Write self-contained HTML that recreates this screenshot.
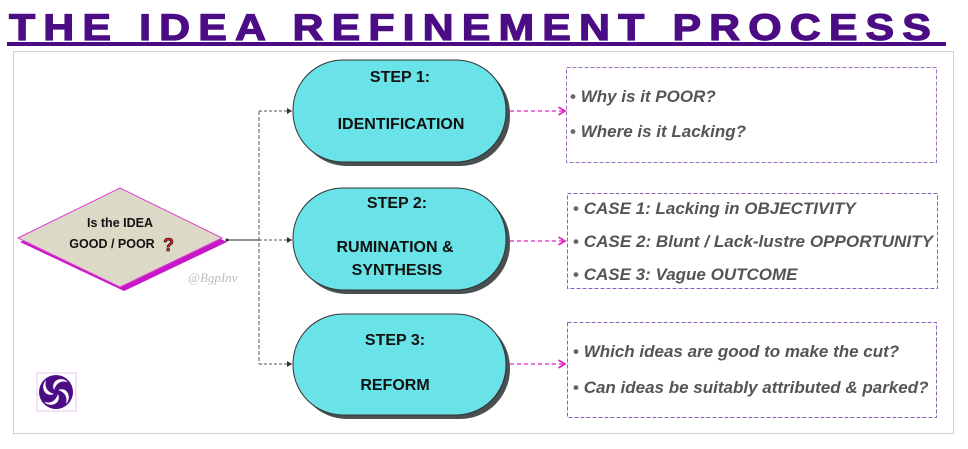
<!DOCTYPE html>
<html><head><meta charset="utf-8"><style>
body{margin:0;background:#fff;width:968px;height:449px;overflow:hidden}
svg{display:block}
.t{font-family:"Liberation Sans",sans-serif;font-weight:bold}
.i{font-family:"Liberation Sans",sans-serif;font-weight:bold;font-style:italic;fill:#555;font-size:17px}
</style></head><body>
<svg width="968" height="449" xmlns="http://www.w3.org/2000/svg">
<defs>
<marker id="ah" markerWidth="8" markerHeight="8" refX="6" refY="4" orient="auto"><path d="M1,1 L6,4 L1,7" fill="none" stroke="#e020c0" stroke-width="1.3"/></marker>
<marker id="ak" markerWidth="6" markerHeight="6" refX="5" refY="3" orient="auto"><path d="M0,0 L5,3 L0,6z" fill="#333"/></marker>
</defs>
<text x="9" y="40" class="t" font-size="37" fill="#4b0c84" stroke="#4b0c84" stroke-width="1.2" letter-spacing="7" textLength="930" lengthAdjust="spacingAndGlyphs">THE IDEA REFINEMENT PROCESS</text>
<rect x="7" y="42" width="939" height="4" fill="#4b0c84"/>
<rect x="13.5" y="51.5" width="940" height="382" fill="none" stroke="#d0d0d0"/>
<!-- diamond -->
<polygon points="20,242 124,192 227,242 124,291" fill="#c817c8"/>
<polygon points="18,238 120,188 222,238 120,287" fill="#dcdac6" stroke="#e040d0" stroke-width="1"/>
<text x="120" y="227" class="t" font-size="12.5" text-anchor="middle" fill="#111">Is the IDEA</text>
<text x="112" y="248" class="t" font-size="12.5" text-anchor="middle" fill="#111">GOOD / POOR</text>
<text x="163" y="251" class="t" font-size="18" fill="#e02020" stroke="#000" stroke-width="0.6">?</text>
<text x="188" y="282" font-family="Liberation Serif" font-style="italic" font-size="13" fill="#bbb">@BgpInv</text>
<!-- connectors -->
<line x1="227" y1="240" x2="259" y2="240" stroke="#222" stroke-width="1"/>
<circle cx="227" cy="240" r="1.5" fill="#222"/>
<line x1="259" y1="111" x2="259" y2="364" stroke="#555" stroke-width="1" stroke-dasharray="4,2"/>
<line x1="259" y1="111" x2="292" y2="111" stroke="#555" stroke-dasharray="3,2" marker-end="url(#ak)"/>
<line x1="259" y1="240" x2="292" y2="240" stroke="#555" stroke-dasharray="3,2" marker-end="url(#ak)"/>
<line x1="259" y1="364" x2="292" y2="364" stroke="#555" stroke-dasharray="3,2" marker-end="url(#ak)"/>
<!-- steps -->
<g>
<rect x="297" y="64" width="213" height="102" rx="50" fill="#4a4f52"/>
<rect x="293" y="60" width="213" height="102" rx="50" fill="#69e3e7" stroke="#333" stroke-width="1"/>
<text x="400" y="82" class="t" font-size="16" text-anchor="middle" fill="#111">STEP 1:</text>
<text x="401" y="129" class="t" font-size="16" text-anchor="middle" fill="#111">IDENTIFICATION</text>
</g>
<g>
<rect x="297" y="192" width="213" height="102" rx="50" fill="#4a4f52"/>
<rect x="293" y="188" width="213" height="102" rx="50" fill="#69e3e7" stroke="#333" stroke-width="1"/>
<text x="397" y="208" class="t" font-size="16" text-anchor="middle" fill="#111">STEP 2:</text>
<text x="395" y="252" class="t" font-size="16" text-anchor="middle" fill="#111">RUMINATION &amp;</text>
<text x="397" y="275" class="t" font-size="16" text-anchor="middle" fill="#111">SYNTHESIS</text>
</g>
<g>
<rect x="297" y="318" width="213" height="101" rx="50" fill="#4a4f52"/>
<rect x="293" y="314" width="213" height="101" rx="50" fill="#69e3e7" stroke="#333" stroke-width="1"/>
<text x="395" y="345" class="t" font-size="16" text-anchor="middle" fill="#111">STEP 3:</text>
<text x="395" y="390" class="t" font-size="16" text-anchor="middle" fill="#111">REFORM</text>
</g>
<!-- pink arrows -->
<line x1="510" y1="111" x2="565" y2="111" stroke="#e020c0" stroke-width="1.3" stroke-dasharray="4,3" marker-end="url(#ah)"/>
<line x1="510" y1="241" x2="565" y2="241" stroke="#e020c0" stroke-width="1.3" stroke-dasharray="4,3" marker-end="url(#ah)"/>
<line x1="510" y1="364" x2="565" y2="364" stroke="#e020c0" stroke-width="1.3" stroke-dasharray="4,3" marker-end="url(#ah)"/>
<!-- boxes -->
<rect x="566.5" y="67.5" width="370" height="95" fill="#fff" stroke="#9a6fc4" stroke-dasharray="4,2"/>
<text x="570" y="102" class="i"><tspan fill="#666" font-style="normal">• </tspan>Why is it POOR?</text>
<text x="570" y="137" class="i"><tspan fill="#666" font-style="normal">• </tspan>Where is it Lacking?</text>
<rect x="567.5" y="193.5" width="370" height="95" fill="#fff" stroke="#8a5fbc" stroke-dasharray="4,2"/>
<text x="573" y="214" class="i"><tspan fill="#666" font-style="normal">• </tspan>CASE 1: Lacking in OBJECTIVITY</text>
<text x="573" y="247" class="i" textLength="360" lengthAdjust="spacingAndGlyphs"><tspan fill="#666" font-style="normal">• </tspan>CASE 2: Blunt / Lack-lustre OPPORTUNITY</text>
<text x="573" y="280" class="i"><tspan fill="#666" font-style="normal">• </tspan>CASE 3: Vague OUTCOME</text>
<rect x="567.5" y="322.5" width="369" height="95" fill="#fff" stroke="#8a5fbc" stroke-dasharray="4,2"/>
<text x="573" y="357" class="i"><tspan fill="#666" font-style="normal">• </tspan>Which ideas are good to make the cut?</text>
<text x="573" y="393" class="i"><tspan fill="#666" font-style="normal">• </tspan>Can ideas be suitably attributed &amp; parked?</text>
<!-- logo -->
<rect x="37" y="373" width="39" height="38" fill="#fff" stroke="#e8b8e8" stroke-width="0.8"/>
<g transform="translate(56,392)" fill="#4b0c84">
<circle r="17"/>
<g fill="#fff">
<path d="M-2,-2 C-6,-12 6,-16 12,-10 C4,-12 0,-8 -2,-2z"/>
<path d="M2,-2 C12,-6 16,6 10,12 C12,4 8,0 2,-2z"/>
<path d="M2,2 C6,12 -6,16 -12,10 C-4,12 0,8 2,2z"/>
<path d="M-2,2 C-12,6 -16,-6 -10,-12 C-12,-4 -8,0 -2,2z"/>
</g>
</g>
</svg>
</body></html>
